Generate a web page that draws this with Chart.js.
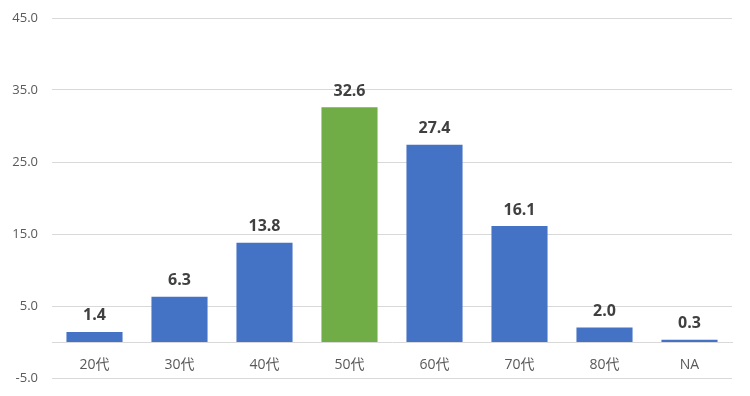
<!DOCTYPE html>
<html>
<head>
<meta charset="utf-8">
<script src="https://cdn.jsdelivr.net/npm/chart.js@4/dist/chart.umd.min.js"></script>
<style>
  html, body { margin: 0; padding: 0; background: #fff; }
  #wrap { width: 750px; height: 396px; }
</style>
</head>
<body>
<div id="wrap"><canvas id="c"></canvas></div>
<script>
const categories = ['20代', '30代', '40代', '50代', '60代', '70代', '80代', 'NA'];
const values = [1.4, 6.3, 13.8, 32.6, 27.4, 16.1, 2.0, 0.3];
const barColors = ['#4472C4', '#4472C4', '#4472C4', '#70AD47', '#4472C4', '#4472C4', '#4472C4', '#4472C4'];
const yMin = -5, yMax = 45, yStep = 10;

const fontFamily = "'Open Sans', 'Noto Sans CJK JP', sans-serif";

// value labels above each bar
const valueLabels = {
  id: 'valueLabels',
  afterDatasetsDraw(chart) {
    const ctx = chart.ctx;
    const meta = chart.getDatasetMeta(0);
    ctx.save();
    ctx.font = 'bold 16px ' + fontFamily;
    ctx.fillStyle = '#404040';
    ctx.textAlign = 'center';
    ctx.textBaseline = 'middle';
    meta.data.forEach((bar, i) => {
      ctx.fillText(values[i].toFixed(1), bar.x, bar.y - 16);
    });
    ctx.restore();
  }
};

new Chart(document.getElementById('c'), {
  type: 'bar',
  data: {
    labels: categories,
    datasets: [{ data: values, backgroundColor: barColors, barPercentage: 0.66, categoryPercentage: 1 }]
  },
  options: {
    responsive: true,
    maintainAspectRatio: false,
    animation: false,
    layout: { padding: { left: 0, top: 18, right: 18, bottom: 18 } },
    plugins: { legend: { display: false }, tooltip: { enabled: false } },
    scales: {
      x: {
        position: { y: 0 },
        grid: { display: false },
        border: { display: true, color: '#D9D9D9', width: 1 },
        ticks: { color: '#595959', font: { family: fontFamily, size: 14 }, padding: 7 }
      },
      y: {
        min: yMin,
        max: yMax,
        afterFit(scale) {
          scale.width = 52;
          scale.paddingTop = 0;
          scale.paddingBottom = 0;
        },
        afterBuildTicks(scale) {
          const t = [];
          for (let v = yMin; v <= yMax; v += yStep) t.push({ value: v });
          scale.ticks = t;
        },
        grid: { color: '#D9D9D9', drawTicks: false },
        border: { display: false },
        ticks: {
          color: '#595959',
          font: { family: fontFamily, size: 13 },
          padding: 14,
          callback: v => Number(v).toFixed(1)
        }
      }
    }
  },
  plugins: [valueLabels]
});
</script>
</body>
</html>
